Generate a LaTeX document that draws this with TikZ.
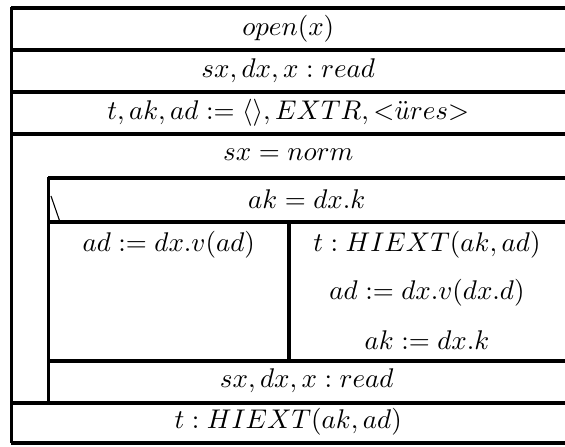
\documentclass[tikz,border=0pt]{standalone}
\begin{document}
\begin{tikzpicture}[x=0.37pt, y=-0.37pt,
    rule/.style={line width=1.2pt},
    cell/.style={inner sep=0pt, anchor=center}]
    % --- coordinates ---
    % left edge, inner block edge, branch divider, right edge
    \def\L{11.5}
    \def\I{48.5}
    \def\D{289}
    \def\R{565}
    \useasboundingbox (0,0) rectangle (565,447);

    % --- outer rows ---
    \draw[rule] (\L,8) -- (\R,8);
    \draw[rule] (\L,50) -- (\R,50);
    \draw[rule] (\L,92) -- (\R,92);
    \draw[rule] (\L,134) -- (\R,134);
    \draw[rule] (\L,403) -- (\R,403);
    \draw[rule] (\L,443) -- (\R,443);
    \draw[rule, line width=1.4pt] (\L,7.5) -- (\L,443.5);

    % --- loop body ---
    \draw[rule] (\I,178) -- (\R,178);
    \draw[rule] (\I,222) -- (\R,222);
    \draw[rule] (\I,361) -- (\R,361);
    \draw[rule] (\I,177.5) -- (\I,403);
    % branch divider
    \draw[rule] (\D,222) -- (\D,361);
    % condition mark
    \draw[line width=0.4pt] (51,196) -- (60,222);

    % --- texts ---
    \node[cell] (open) at ({(\L+\R)/2},29) {$open(x)$};
    \node[cell] (read1) at ({(\L+\R)/2},71) {$sx, dx, x : read$};
    \node[cell] (init) at ({(\L+\R)/2},113) {$t, ak, ad := \langle\rangle, EXTR, {<}\ddot{u}res{>}$};
    \node[cell] (loop) at ({(\L+\R)/2},155) {$sx = norm$};
    \node[cell] (cond) at ({(\I+\R)/2},199) {$ak = dx.k$};
    \node[cell] (yes) at ({(\I+\D)/2},245) {$ad := dx.v(ad)$};
    \node[cell] (no1) at ({(\D+\R)/2},245) {$t : HIEXT(ak, ad)$};
    \node[cell] (no2) at ({(\D+\R)/2},293) {$ad := dx.v(dx.d)$};
    \node[cell] (no3) at ({(\D+\R)/2},340) {$ak := dx.k$};
    \node[cell] (read2) at ({(\I+\R)/2},381) {$sx, dx, x : read$};
    \node[cell] (out) at ({(\L+\R)/2},422) {$t : HIEXT(ak, ad)$};
\end{tikzpicture}
\end{document}
